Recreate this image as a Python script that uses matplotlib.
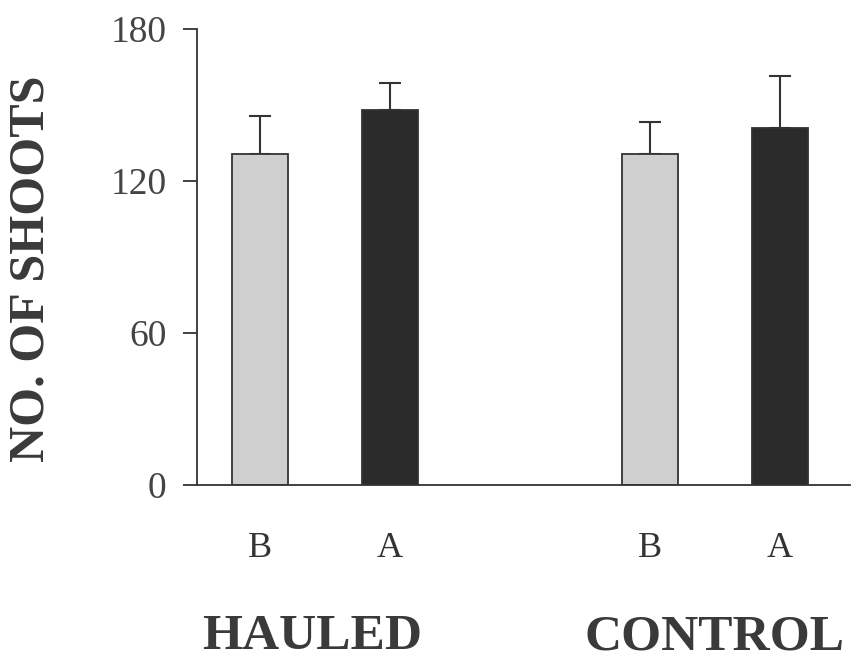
import matplotlib
matplotlib.use("Agg")
import matplotlib.pyplot as plt
import numpy as np

groups = ["HAULED", "CONTROL"]
conditions = ["B", "A"]
means = {"HAULED": [130.7, 148.0], "CONTROL": [130.8, 140.9]}
errors = {"HAULED": [15.0, 10.8], "CONTROL": [12.6, 20.6]}
yticks = [0, 60, 120, 180]

colors = ["#cfcfcf", "#2b2b2b"]
group_pos = [0.5, 3.5]
offsets = [-0.5, 0.5]
label_shift = [-0.1, 0.0]
bar_w = 0.43

serif = ["Liberation Serif", "DejaVu Serif"]
plt.rcParams["font.family"] = serif

fig = plt.figure(figsize=(8.61, 6.6), dpi=100)
ax = fig.add_axes([197 / 861, 1 - 485 / 660, (850 - 197) / 861, (485 - 29) / 660])

xs, labels = [], []
for g, gp in zip(groups, group_pos):
    for i, c in enumerate(conditions):
        x = gp + offsets[i]
        ax.bar(x, means[g][i], width=bar_w, color=colors[i], edgecolor="#333333",
               linewidth=1.3, zorder=2)
        ax.errorbar(x, means[g][i], yerr=[[0], [errors[g][i]]], fmt="none",
                    ecolor="#333333", elinewidth=1.5, capsize=8, capthick=1.5, zorder=1)
        xs.append(x)
        labels.append(c)

ax.set_xlim(-0.485, 4.54)
ax.set_ylim(0, 180)
ax.set_yticks(yticks)
ax.set_yticklabels([str(v) for v in yticks], fontsize=27, color="#444444")
ax.tick_params(axis="y", length=10, width=1.3, direction="out", pad=12, color="#333333")
ax.set_xticks(xs)
ax.set_xticklabels(labels, fontsize=26, color="#333333")
ax.tick_params(axis="x", length=0, pad=34)

for s in ["top", "right"]:
    ax.spines[s].set_visible(False)
for s in ["left", "bottom"]:
    ax.spines[s].set_linewidth(1.3)
    ax.spines[s].set_color("#333333")

trans = matplotlib.transforms.blended_transform_factory(ax.transData, fig.transFigure)
for g, gp, sh in zip(groups, group_pos, label_shift):
    ax.text(gp + sh, 1 - 637 / 660, g, transform=trans, ha="center", va="center",
            fontsize=37, fontweight="bold", color="#3a3a3a")

fig.text(32 / 861, 1 - 269 / 660, "NO. OF SHOOTS", rotation=90, ha="center", va="center",
         fontsize=36, fontweight="bold", color="#3a3a3a")

fig.savefig("out.png", dpi=100)
